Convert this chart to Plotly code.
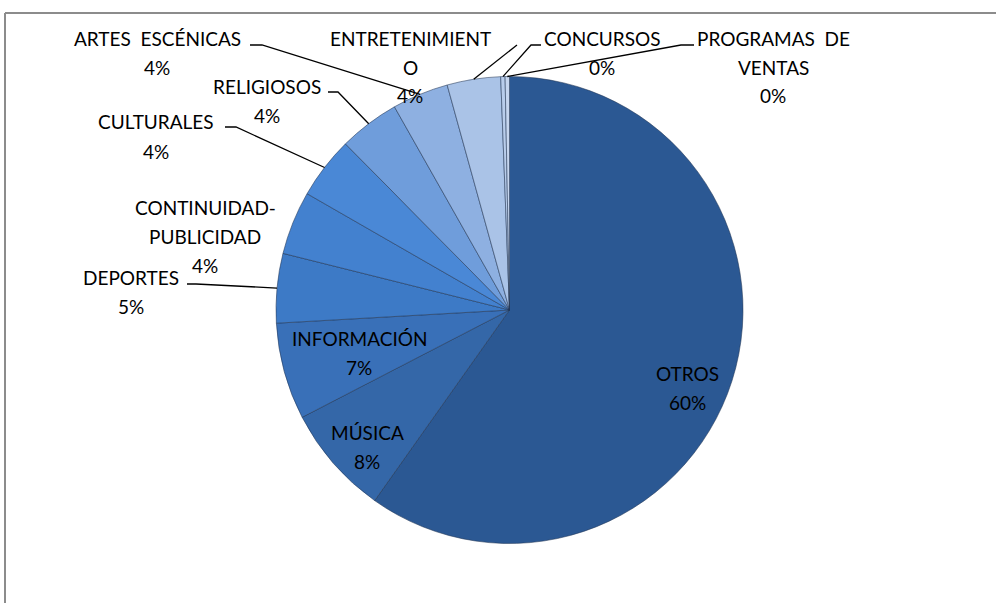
import math
import plotly.graph_objects as go

# ---- data ----
categories = ["OTROS", "MÚSICA", "INFORMACIÓN", "DEPORTES", "CONTINUIDAD-PUBLICIDAD",
              "CULTURALES", "RELIGIOSOS", "ARTES ESCÉNICAS", "ENTRETENIMIENTO",
              "CONCURSOS", "PROGRAMAS DE VENTAS"]
values = [59.8, 7.6, 6.7, 4.8, 4.4, 4.3, 4.2, 3.9, 3.7, 0.3, 0.3]
label_lines = [["OTROS"], ["MÚSICA"], ["INFORMACIÓN"], ["DEPORTES"],
               ["CONTINUIDAD-", "PUBLICIDAD"], ["CULTURALES"], ["RELIGIOSOS"],
               ["ARTES  ESCÉNICAS"], ["ENTRETENIMIENT", "O"], ["CONCURSOS"],
               ["PROGRAMAS  DE", "VENTAS"]]

# ---- style / layout ----
colors = ["#2B5893", "#3467A8", "#3970B8", "#3D7AC6", "#4381CF", "#4A88D6",
          "#6F9DDB", "#8EB0E1", "#AAC3E7", "#B9CDEB", "#C6D6EF"]
W, H = 996, 603
CX, CY, R = 509.5, 310.0, 233.5
LINE_H = 29
FONT = dict(family="Lato, 'Open Sans', sans-serif", size=19, color="#000000")

# label placement (pixels): first-line center x, y ; leader (start, elbow) or None
label_pos = [(687, 373), (367, 432), (359, 338), (131, 277), (205, 207), (156, 122),
             (267, 86), (157, 38), (410, 38), (602, 38), (773, 38)]
leaders = [None, None, None, ((187, 284), (196, 284)), None, ((225, 127), (236, 127)),
           ((328, 92), (338, 92)), ((250, 45), (262, 45)), ((517, 45), (517, 45)),
           ((541, 45), (531, 45)), ((694, 45), (681, 45))]


def px(x):
    return x / W


def py(y):
    return 1 - y / H


fig = go.Figure(go.Pie(
    labels=categories, values=values, sort=False, direction="clockwise", rotation=0,
    marker=dict(colors=colors, line=dict(color="rgba(35,55,85,0.55)", width=1)),
    textinfo="none", hoverinfo="label+percent", showlegend=False,
    domain=dict(x=[px(CX - R), px(CX + R)], y=[py(CY + R), py(CY - R)]),
))

total = sum(values)
annotations = []
shapes = []
cum = 0.0
for cat, v, lines, (lx, ly), ld in zip(categories, values, label_lines, label_pos, leaders):
    frac = v / total
    mid = (cum + frac / 2) * 2 * math.pi
    cum += frac
    pct = f"{round(frac * 100)}%"
    for i, t in enumerate(lines + [pct]):
        annotations.append(dict(x=px(lx), y=py(ly + i * LINE_H), xref="paper", yref="paper",
                                text=t, showarrow=False, font=FONT,
                                xanchor="center", yanchor="middle"))
    if ld is not None:
        ex = CX + R * math.sin(mid)
        ey = CY - R * math.cos(mid)
        (sx, sy), (bx, by) = ld
        shapes.append(dict(type="path", xref="paper", yref="paper",
                           path=f"M {px(sx)},{py(sy)} L {px(bx)},{py(by)} L {px(ex)},{py(ey)}",
                           line=dict(color="#000000", width=1.3)))

# chart-area border (top and left edges visible)
shapes.append(dict(type="line", xref="paper", yref="paper", x0=px(5), y0=py(13), x1=1, y1=py(13),
                   line=dict(color="#8C8C8C", width=2)))
shapes.append(dict(type="line", xref="paper", yref="paper", x0=px(5), y0=py(13), x1=px(5), y1=0,
                   line=dict(color="#8C8C8C", width=2)))

fig.update_layout(width=W, height=H, margin=dict(l=0, r=0, t=0, b=0),
                  paper_bgcolor="white", plot_bgcolor="white",
                  annotations=annotations, shapes=shapes)

fig.write_html("out.html", config={"displayModeBar": False},
               post_script="document.body.style.margin='0';document.body.style.overflow='hidden';")
